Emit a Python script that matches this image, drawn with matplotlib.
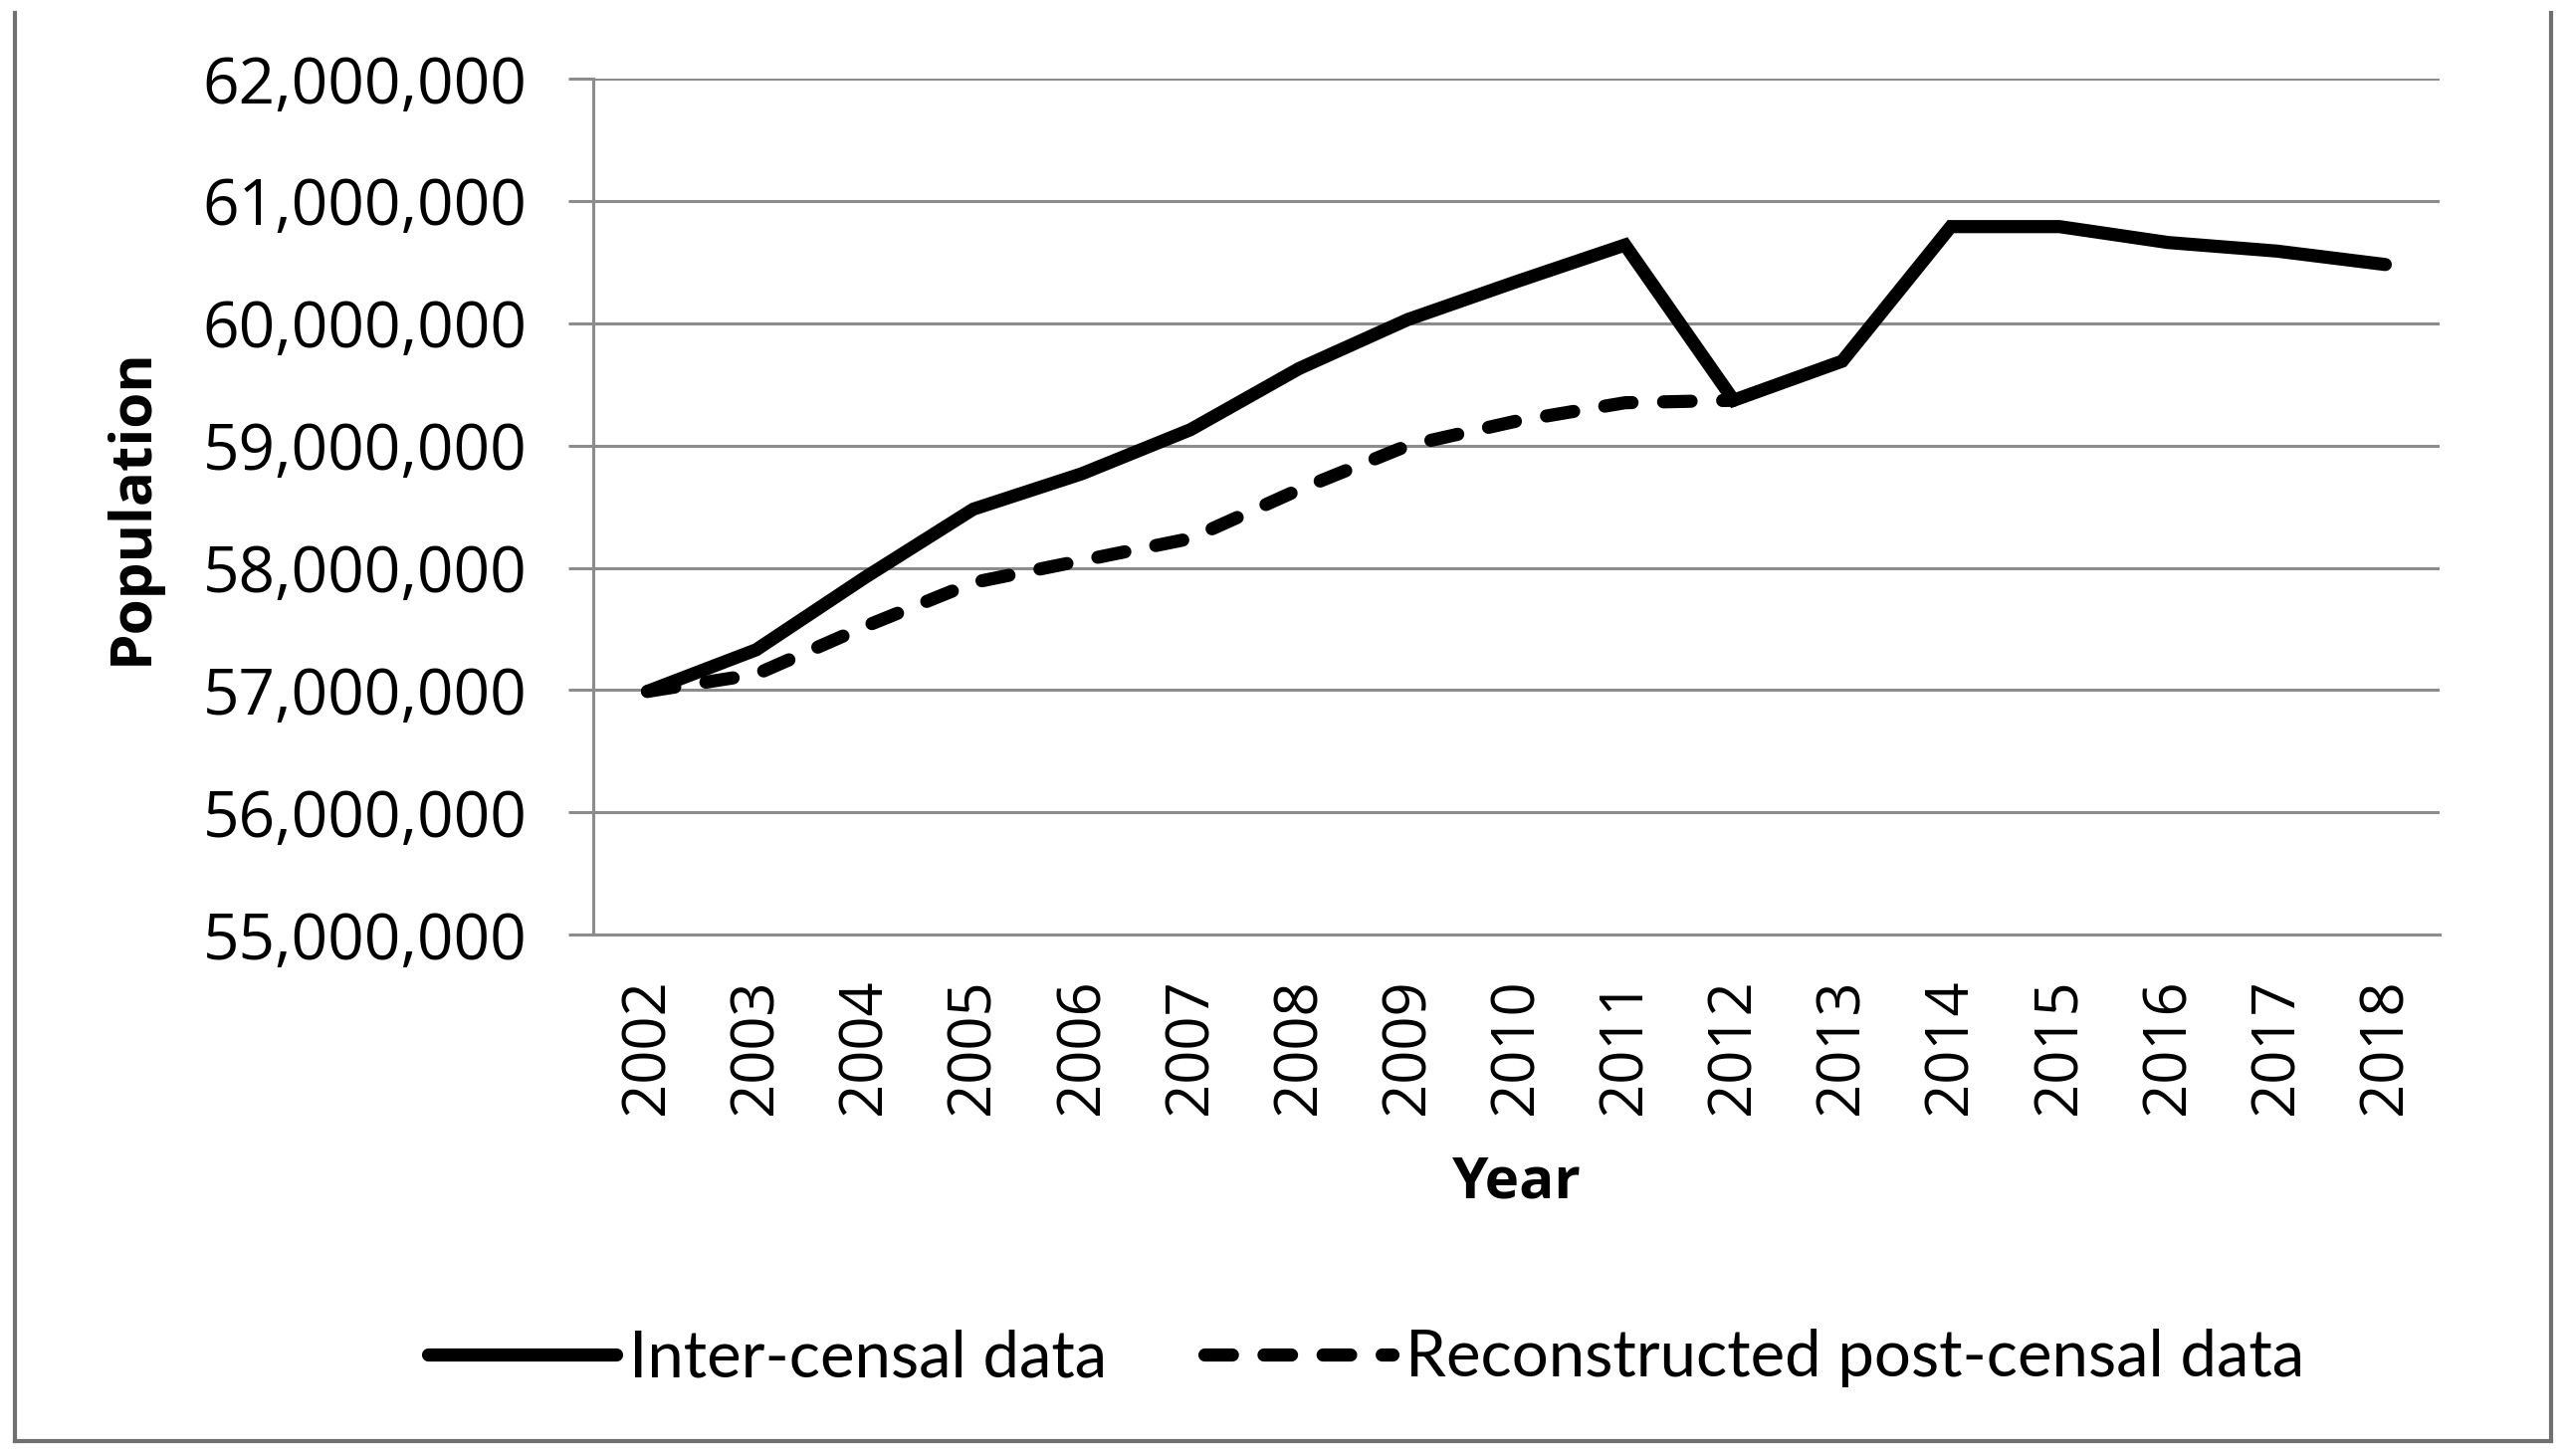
import numpy as np
import matplotlib
matplotlib.use('Agg')
import matplotlib.pyplot as plt
from matplotlib.ticker import FuncFormatter
from matplotlib.lines import Line2D

years = [2002, 2003, 2004, 2005, 2006, 2007, 2008, 2009, 2010,
         2011, 2012, 2013, 2014, 2015, 2016, 2017, 2018]

# inter-censal population (whole period)
inter_censal = [56.99, 57.33, 57.92, 58.48, 58.77, 59.13, 59.63, 60.03, 60.34,
                60.64, 59.37, 59.69, 60.79, 60.79, 60.66, 60.59, 60.48]

# reconstructed post-censal population (2002-2012 only)
post_censal = [56.99, 57.13, 57.52, 57.88, 58.06, 58.24, 58.64, 59.00, 59.20,
               59.35, 59.37]

y_ticks = [55, 56, 57, 58, 59, 60, 61, 62]

fig = plt.figure(figsize=(25.8, 14.63), dpi=100)
ax = fig.add_axes([0.231, 0.358, 0.719, 0.588])

x = np.arange(len(years))
ax.plot(x, np.array(inter_censal) * 1e6, color='black', lw=9.5,
        solid_joinstyle='miter', solid_capstyle='round',
        label='Inter-censal data')
ax.plot(x[:len(post_censal)], np.array(post_censal) * 1e6, color='black', lw=9.5,
        linestyle=(0, (2.1, 2.4)), dash_capstyle='round',
        label='Reconstructed post-censal data')

# 设置坐标轴范围
ax.set_xlim(-0.5, len(years) - 0.5)
ax.set_ylim(55e6, 62e6)
ax.set_yticks([v * 1e6 for v in y_ticks])
ax.yaxis.set_major_formatter(FuncFormatter(lambda v, p: '{:,.0f}'.format(v)))
ax.set_xticks(x)
ax.set_xticklabels([str(y) for y in years], rotation=90)

ax.grid(axis='y', color='#8c8c8c', lw=2.2)
ax.set_axisbelow(True)
for s in ['top', 'right']:
    ax.spines[s].set_color('none')
ax.spines['left'].set_color('#8c8c8c')
ax.spines['left'].set_linewidth(2.2)
ax.spines['bottom'].set_color('#8c8c8c')
ax.spines['bottom'].set_linewidth(2.2)
ax.tick_params(axis='y', length=18, width=2.2, color='#8c8c8c', pad=30,
               labelsize=46)
ax.tick_params(axis='x', length=0, pad=32, labelsize=43)
for lab in ax.get_yticklabels() + ax.get_xticklabels():
    lab.set_family('Open Sans')

# 设置坐标轴名称
ax.set_ylabel('Population', fontsize=42, fontweight='bold', family='Open Sans',
              labelpad=30)
ax.set_xlabel('Year', fontsize=42, fontweight='bold', family='Open Sans',
              labelpad=28)

leg = fig.legend(handles=ax.get_lines(), loc='center', ncol=2,
                 bbox_to_anchor=(0.532, 0.067), frameon=False,
                 handlelength=2.9, columnspacing=1.5, handletextpad=0.2,
                 prop={'family': 'Lato', 'size': 47})

# chart border (left, right, bottom)
fig.add_artist(Line2D([0.0058, 0.0058], [0.010, 0.991], color='#707070', lw=3,
                      transform=fig.transFigure))
fig.add_artist(Line2D([0.9935, 0.9935], [0.010, 0.991], color='#707070', lw=3,
                      transform=fig.transFigure))
fig.add_artist(Line2D([0.0058, 0.9935], [0.010, 0.010], color='#707070', lw=3,
                      transform=fig.transFigure))

fig.savefig('out.png', dpi=100, facecolor='white')
